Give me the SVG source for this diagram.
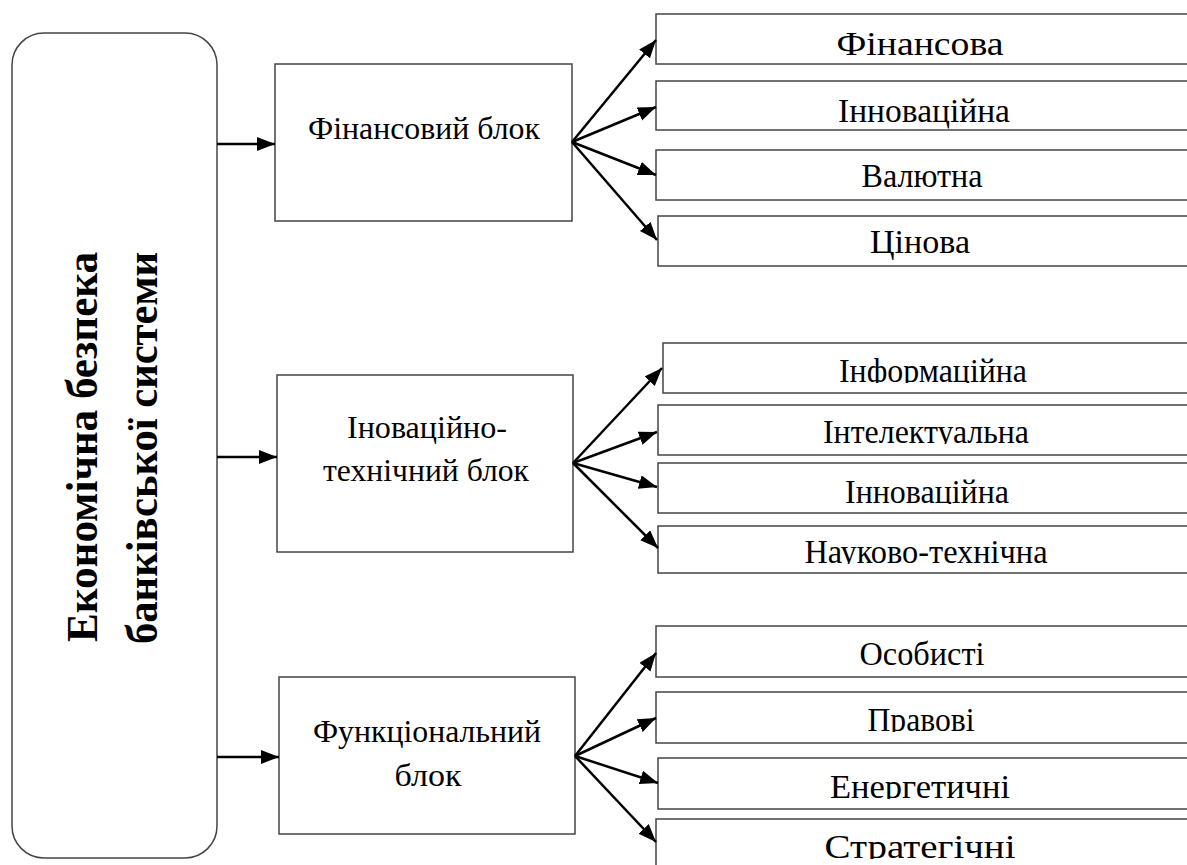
<svg xmlns="http://www.w3.org/2000/svg" width="1187" height="865" viewBox="0 0 1187 865">
<style>
.box{fill:#fff;stroke:#444;stroke-width:1.5}
.t{font-family:"Liberation Serif","Times New Roman",serif;fill:#000;text-anchor:middle}
.m{font-size:32px}
.r{font-size:34px}
.v{font-family:"Liberation Serif","Times New Roman",serif;font-weight:bold;font-size:44px;text-anchor:middle;fill:#000}
.c{stroke:#000;stroke-width:2.5;fill:none}
</style>
<defs>
<marker id="ah" markerUnits="userSpaceOnUse" markerWidth="20" markerHeight="16" refX="18" refY="7" orient="auto">
<path d="M0,0 L18,7 L0,14 Z" fill="#000"/>
</marker>
<clipPath id="c21"><rect x="600" y="340" width="600" height="43"/></clipPath>
<clipPath id="c22"><rect x="600" y="400" width="600" height="44"/></clipPath>
<clipPath id="c23"><rect x="600" y="460" width="600" height="44"/></clipPath>
<clipPath id="c24"><rect x="600" y="520" width="600" height="44"/></clipPath>
<clipPath id="c31"><rect x="600" y="620" width="600" height="46"/></clipPath>
<clipPath id="c32"><rect x="600" y="690" width="600" height="42"/></clipPath>
<clipPath id="c33"><rect x="600" y="755" width="600" height="44"/></clipPath>
<clipPath id="c34"><rect x="600" y="815" width="600" height="44"/></clipPath>
</defs>

<g id="root">
<rect class="box" x="12" y="33" width="205" height="825" rx="32" ry="32"/>
<text class="v" transform="translate(97,447) rotate(-90)" textLength="390" lengthAdjust="spacingAndGlyphs">Економічна безпека</text>
<text class="v" transform="translate(157,448) rotate(-90)" textLength="392" lengthAdjust="spacingAndGlyphs">банківської системи</text>
</g>

<g id="block1">
<rect class="box" x="275" y="64" width="297" height="157"/>
<text class="t m" x="424" y="139" textLength="232" lengthAdjust="spacingAndGlyphs">Фінансовий блок</text>
</g>
<g id="block2">
<rect class="box" x="277" y="375" width="296" height="177"/>
<text class="t m" x="427" y="438" textLength="160" lengthAdjust="spacingAndGlyphs">Іноваційно-</text>
<text class="t m" x="426" y="481" textLength="206" lengthAdjust="spacingAndGlyphs">технічний блок</text>
</g>
<g id="block3">
<rect class="box" x="279" y="677" width="296" height="157"/>
<text class="t m" x="427" y="742" textLength="228" lengthAdjust="spacingAndGlyphs">Функціональний</text>
<text class="t m" x="428" y="786" textLength="67" lengthAdjust="spacingAndGlyphs">блок</text>
</g>

<g id="g1a"><rect class="box" x="656" y="14" width="545" height="50"/>
<text class="t r" x="920" y="55" textLength="167" lengthAdjust="spacingAndGlyphs">Фінансова</text></g>
<g id="g1b"><rect class="box" x="656" y="81" width="545" height="49"/>
<text class="t r" x="924" y="122" textLength="172" lengthAdjust="spacingAndGlyphs">Інноваційна</text></g>
<g id="g1c"><rect class="box" x="656" y="150" width="545" height="50"/>
<text class="t r" x="922" y="187" textLength="121" lengthAdjust="spacingAndGlyphs">Валютна</text></g>
<g id="g1d"><rect class="box" x="658" y="216" width="545" height="50"/>
<text class="t r" x="920" y="253" textLength="100" lengthAdjust="spacingAndGlyphs">Цінова</text></g>

<g id="g2a"><rect class="box" x="663" y="343" width="545" height="50"/>
<text class="t r" x="933" y="382" clip-path="url(#c21)" textLength="188" lengthAdjust="spacingAndGlyphs">Інформаційна</text></g>
<g id="g2b"><rect class="box" x="658" y="405" width="545" height="50"/>
<text class="t r" x="926" y="443" clip-path="url(#c22)" textLength="206" lengthAdjust="spacingAndGlyphs">Інтелектуальна</text></g>
<g id="g2c"><rect class="box" x="658" y="463" width="545" height="50"/>
<text class="t r" x="927" y="503" clip-path="url(#c23)" textLength="164" lengthAdjust="spacingAndGlyphs">Інноваційна</text></g>
<g id="g2d"><rect class="box" x="658" y="526" width="545" height="47"/>
<text class="t r" x="926" y="563" clip-path="url(#c24)" textLength="243" lengthAdjust="spacingAndGlyphs">Науково-технічна</text></g>

<g id="g3a"><rect class="box" x="656" y="626" width="545" height="51"/>
<text class="t r" x="922" y="665" clip-path="url(#c31)" textLength="125" lengthAdjust="spacingAndGlyphs">Особисті</text></g>
<g id="g3b"><rect class="box" x="656" y="692" width="545" height="51"/>
<text class="t r" x="921" y="731" clip-path="url(#c32)" textLength="107" lengthAdjust="spacingAndGlyphs">Правові</text></g>
<g id="g3c"><rect class="box" x="658" y="758" width="545" height="51"/>
<text class="t r" x="920" y="798" clip-path="url(#c33)" textLength="180" lengthAdjust="spacingAndGlyphs">Енергетичні</text></g>
<g id="g3d"><rect class="box" x="656" y="819" width="545" height="60"/>
<text class="t r" x="920" y="858" clip-path="url(#c34)" textLength="191" lengthAdjust="spacingAndGlyphs">Стратегічні</text></g>

<g id="connectors">
<line class="c" x1="217" y1="144" x2="275" y2="144" marker-end="url(#ah)"/>
<line class="c" x1="217" y1="457" x2="277" y2="457" marker-end="url(#ah)"/>
<line class="c" x1="217" y1="757" x2="279" y2="757" marker-end="url(#ah)"/>

<line class="c" x1="572" y1="142" x2="656" y2="40" marker-end="url(#ah)"/>
<line class="c" x1="572" y1="142" x2="656" y2="107" marker-end="url(#ah)"/>
<line class="c" x1="572" y1="142" x2="656" y2="175" marker-end="url(#ah)"/>
<line class="c" x1="572" y1="142" x2="657" y2="240" marker-end="url(#ah)"/>

<line class="c" x1="573" y1="463" x2="662" y2="368" marker-end="url(#ah)"/>
<line class="c" x1="573" y1="463" x2="657" y2="432" marker-end="url(#ah)"/>
<line class="c" x1="573" y1="463" x2="657" y2="487" marker-end="url(#ah)"/>
<line class="c" x1="573" y1="463" x2="658" y2="548" marker-end="url(#ah)"/>

<line class="c" x1="575" y1="756" x2="656" y2="653" marker-end="url(#ah)"/>
<line class="c" x1="575" y1="756" x2="656" y2="718" marker-end="url(#ah)"/>
<line class="c" x1="575" y1="756" x2="658" y2="783" marker-end="url(#ah)"/>
<line class="c" x1="575" y1="756" x2="656" y2="842" marker-end="url(#ah)"/>
</g>
</svg>
